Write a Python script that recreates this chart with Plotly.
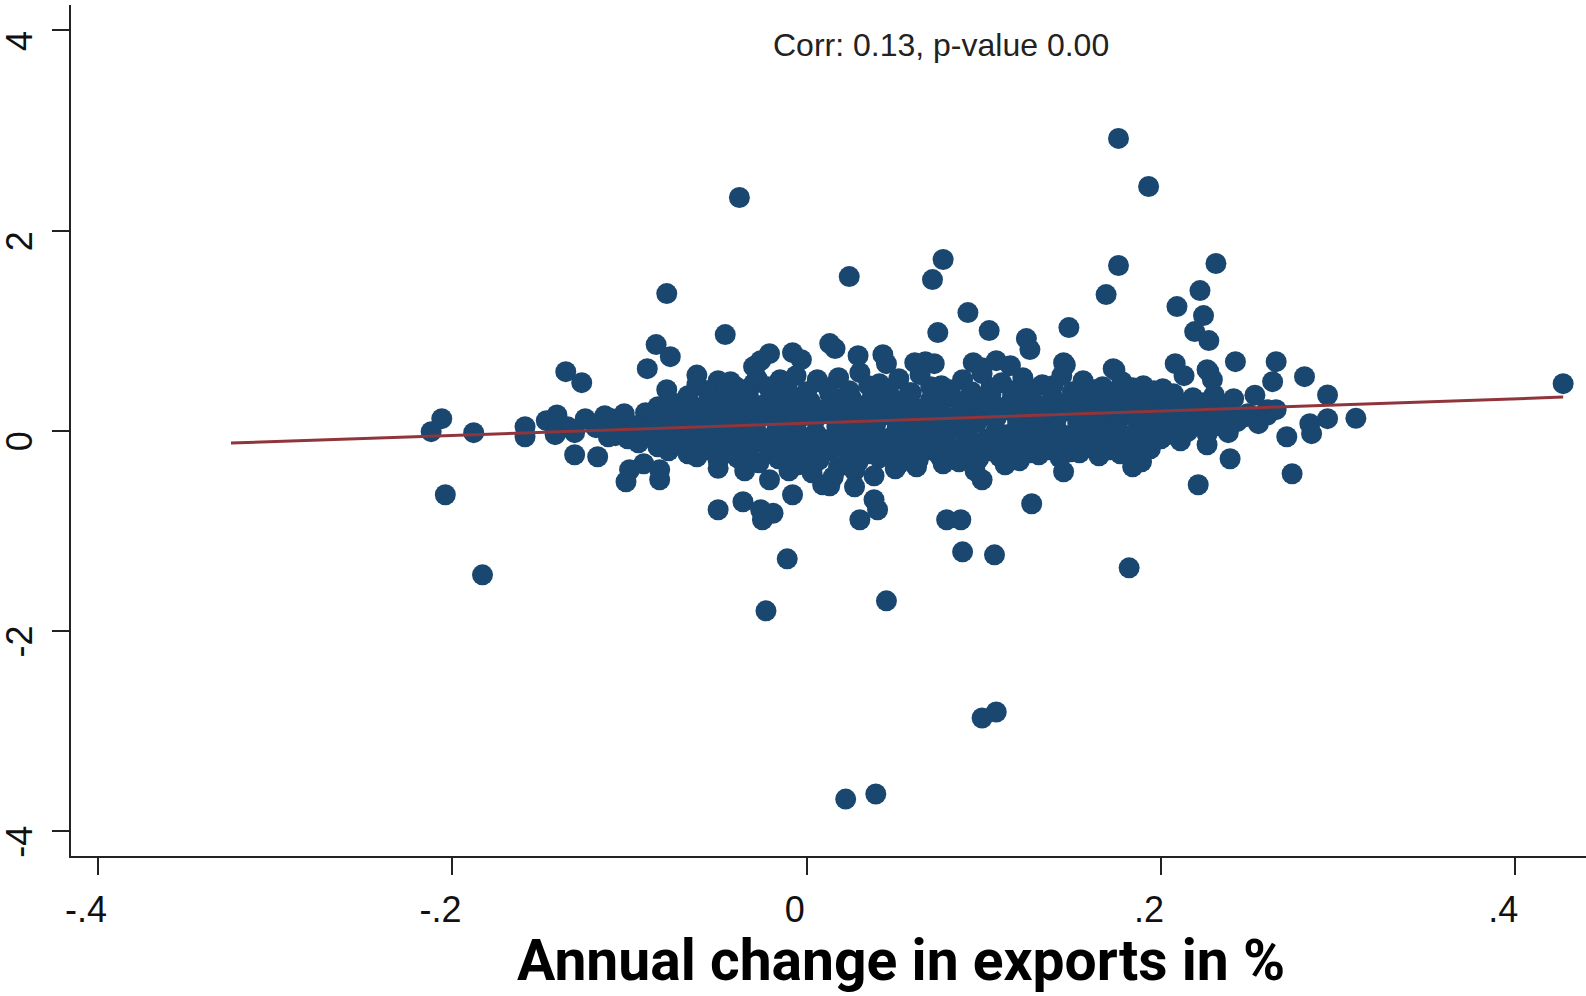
import numpy as np
import plotly.graph_objects as go

# ---- data: (annual change in exports, outcome) ----
upper_points = [
    (0.176, 2.92), (0.193, 2.44), (-0.038, 2.33), (0.077, 1.71), (0.024, 1.54),
    (0.071, 1.51), (0.176, 1.65), (0.231, 1.67), (0.169, 1.36), (0.222, 1.40),
    (0.209, 1.24), (0.224, 1.15), (0.219, 0.99), (-0.079, 1.37), (0.091, 1.18),
    (0.074, 0.98), (0.103, 1.00), (0.148, 1.03), (-0.046, 0.96), (0.124, 0.92),
    (0.126, 0.81), (0.227, 0.90), (-0.085, 0.86), (-0.077, 0.74), (-0.090, 0.62),
    (-0.136, 0.59), (-0.127, 0.48), (-0.062, 0.556), (-0.043, 0.49), (-0.079, 0.41),
    (-0.021, 0.77), (-0.008, 0.78), (-0.003, 0.71), (-0.029, 0.65), (-0.026, 0.70),
    (0.013, 0.87), (0.016, 0.82), (0.029, 0.75), (0.043, 0.76), (0.045, 0.67),
    (0.061, 0.68), (0.067, 0.69), (0.072, 0.67), (0.094, 0.68), (0.099, 0.63),
    (0.107, 0.70), (0.115, 0.65), (0.145, 0.68), (0.146, 0.656), (0.173, 0.62),
    (0.174, 0.606), (0.208, 0.67), (0.213, 0.55), (0.227, 0.59), (0.242, 0.69),
    (0.265, 0.69), (0.281, 0.54), (0.263, 0.49), (0.229, 0.51), (0.226, 0.61),
    (-0.015, 0.51), (0.006, 0.51), (-0.030, 0.64), (-0.030, 0.47),
]

core_top = [
    (-0.062, 0.46), (-0.050, 0.50), (-0.040, 0.44), (-0.028, 0.52), (-0.016, 0.47),
    (-0.006, 0.55), (0.006, 0.49), (0.018, 0.53), (0.030, 0.58), (0.041, 0.47),
    (0.052, 0.52), (0.064, 0.56), (0.076, 0.45), (0.088, 0.51), (0.099, 0.57),
    (0.110, 0.48), (0.122, 0.53), (0.133, 0.46), (0.144, 0.55), (0.156, 0.50),
    (0.167, 0.44), (0.178, 0.49), (0.190, 0.45), (0.201, 0.42),
    (-0.056, 0.40), (-0.045, 0.42), (-0.034, 0.38), (-0.022, 0.44), (-0.011, 0.41),
    (0.000, 0.39), (0.012, 0.43), (0.024, 0.40), (0.035, 0.45), (0.046, 0.42),
    (0.058, 0.38), (0.070, 0.44), (0.081, 0.41), (0.093, 0.39), (0.104, 0.43),
    (0.116, 0.40), (0.127, 0.42), (0.139, 0.45), (0.150, 0.39), (0.162, 0.41),
    (0.173, 0.38), (0.184, 0.43), (0.196, 0.40), (0.207, 0.37),
    (-0.078, 0.30), (-0.067, 0.35), (-0.055, 0.32), (-0.044, 0.28), (-0.033, 0.36),
    (-0.021, 0.31), (-0.010, 0.34), (0.002, 0.29), (0.013, 0.37), (0.025, 0.33),
    (0.036, 0.30), (0.047, 0.35), (0.059, 0.38), (0.070, 0.31), (0.082, 0.34),
    (0.093, 0.29), (0.104, 0.36), (0.116, 0.32), (0.127, 0.38), (0.139, 0.33),
    (0.150, 0.30), (0.161, 0.35), (0.173, 0.31), (0.184, 0.37), (0.196, 0.34),
    (0.207, 0.30), (0.218, 0.33), (0.230, 0.36),
    (-0.084, 0.24), (-0.073, 0.27), (-0.061, 0.23), (-0.050, 0.26), (-0.038, 0.22),
    (-0.027, 0.25), (-0.016, 0.28), (-0.004, 0.24), (0.007, 0.21), (0.019, 0.26),
    (0.030, 0.23), (0.042, 0.27), (0.053, 0.25), (0.065, 0.22), (0.076, 0.28),
    (0.087, 0.24), (0.099, 0.26), (0.110, 0.23), (0.122, 0.27), (0.133, 0.25),
    (0.144, 0.22), (0.156, 0.26), (0.167, 0.28), (0.179, 0.24), (0.190, 0.27),
    (0.202, 0.25), (0.213, 0.23), (0.224, 0.28), (0.236, 0.26),
]

core_middle = [
    (-0.125, 0.12), (-0.114, 0.15), (-0.103, 0.10), (-0.091, 0.18), (-0.080, 0.14),
    (-0.069, 0.20), (-0.057, 0.16), (-0.046, 0.13), (-0.035, 0.19), (-0.023, 0.17),
    (-0.012, 0.21), (-0.001, 0.15), (0.011, 0.18), (0.022, 0.14), (0.033, 0.20),
    (0.045, 0.16), (0.056, 0.22), (0.067, 0.17), (0.079, 0.13), (0.090, 0.19),
    (0.101, 0.15), (0.113, 0.21), (0.124, 0.18), (0.135, 0.14), (0.147, 0.20),
    (0.158, 0.17), (0.169, 0.23), (0.181, 0.16), (0.192, 0.19), (0.203, 0.22),
    (0.215, 0.18), (0.226, 0.24), (0.237, 0.20), (0.249, 0.17), (0.260, 0.21),
    (-0.119, 0.07), (-0.108, 0.09), (-0.097, 0.05), (-0.086, 0.10), (-0.074, 0.08),
    (-0.063, 0.06), (-0.051, 0.11), (-0.040, 0.09), (-0.029, 0.07), (-0.017, 0.10),
    (-0.006, 0.08), (0.005, 0.12), (0.017, 0.09), (0.028, 0.07), (0.039, 0.11),
    (0.051, 0.10), (0.062, 0.08), (0.073, 0.12), (0.085, 0.09), (0.096, 0.11),
    (0.107, 0.13), (0.119, 0.10), (0.130, 0.08), (0.141, 0.12), (0.153, 0.11),
    (0.164, 0.09), (0.175, 0.13), (0.187, 0.12), (0.198, 0.10), (0.209, 0.14),
    (0.221, 0.11), (0.232, 0.13), (0.243, 0.12),
    (-0.131, -0.02), (-0.119, 0.03), (-0.108, -0.05), (-0.097, 0.01), (-0.085, 0.04),
    (-0.074, -0.03), (-0.063, 0.02), (-0.051, 0.05), (-0.040, -0.01), (-0.029, 0.03),
    (-0.017, 0.00), (-0.006, 0.06), (0.005, -0.02), (0.017, 0.04), (0.028, 0.01),
    (0.039, 0.07), (0.051, 0.02), (0.062, -0.01), (0.073, 0.05), (0.085, 0.03),
    (0.096, 0.08), (0.107, 0.00), (0.119, 0.04), (0.130, 0.06), (0.141, 0.02),
    (0.153, 0.07), (0.164, 0.03), (0.175, 0.05), (0.187, 0.09), (0.198, 0.04),
    (0.209, 0.06), (0.221, 0.08), (0.232, 0.05), (0.243, 0.09), (0.255, 0.07),
]

core_bottom = [
    (-0.112, -0.06), (-0.101, -0.08), (-0.090, -0.05), (-0.079, -0.07), (-0.068, -0.09),
    (-0.057, -0.04), (-0.045, -0.07), (-0.034, -0.06), (-0.023, -0.08), (-0.011, -0.05),
    (0.000, -0.07), (0.011, -0.09), (0.023, -0.06), (0.034, -0.04), (0.045, -0.08),
    (0.056, -0.05), (0.068, -0.07), (0.079, -0.03), (0.090, -0.06), (0.102, -0.08),
    (0.113, -0.04), (0.124, -0.06), (0.136, -0.03), (0.147, -0.05), (0.158, -0.07),
    (0.170, -0.02), (0.181, -0.05), (0.192, -0.03), (0.204, -0.04), (0.215, -0.01),
    (0.226, -0.03), (0.238, -0.02),
    (-0.095, -0.12), (-0.084, -0.16), (-0.072, -0.10), (-0.061, -0.15), (-0.050, -0.13),
    (-0.038, -0.18), (-0.027, -0.11), (-0.016, -0.14), (-0.004, -0.17), (0.007, -0.12),
    (0.018, -0.15), (0.030, -0.19), (0.041, -0.13), (0.052, -0.16), (0.064, -0.11),
    (0.075, -0.14), (0.086, -0.18), (0.098, -0.12), (0.109, -0.15), (0.120, -0.10),
    (0.132, -0.13), (0.143, -0.16), (0.154, -0.11), (0.166, -0.09), (0.177, -0.14),
    (0.188, -0.12), (0.200, -0.08), (0.211, -0.10),
    (-0.078, -0.20), (-0.067, -0.23), (-0.055, -0.19), (-0.044, -0.22), (-0.033, -0.24),
    (-0.021, -0.21), (-0.010, -0.25), (0.001, -0.22), (0.013, -0.20), (0.024, -0.26),
    (0.035, -0.23), (0.047, -0.21), (0.058, -0.24), (0.069, -0.19), (0.081, -0.22),
    (0.092, -0.25), (0.103, -0.20), (0.115, -0.18), (0.126, -0.22), (0.137, -0.19),
    (0.149, -0.21), (0.160, -0.17), (0.171, -0.19), (0.183, -0.16), (0.194, -0.18),
    (-0.062, -0.26), (-0.050, -0.30), (-0.039, -0.27), (-0.027, -0.32), (-0.016, -0.28),
    (-0.005, -0.34), (0.007, -0.29), (0.018, -0.36), (0.029, -0.31), (0.041, -0.27),
    (0.052, -0.33), (0.063, -0.29), (0.075, -0.25), (0.086, -0.31), (0.097, -0.28),
    (0.109, -0.26), (0.120, -0.30), (0.131, -0.24), (0.143, -0.27), (0.154, -0.22),
    (0.165, -0.25), (0.177, -0.23), (0.188, -0.20),
    (0.003, -0.42), (0.015, -0.46), (0.027, -0.40), (0.038, -0.45), (0.050, -0.38),
    (-0.010, -0.40), (0.062, -0.36), (0.095, -0.40), (0.112, -0.34), (-0.035, -0.40),
    (0.013, -0.55), (0.027, -0.56),
]

edge_points = [
    (-0.206, 0.12), (-0.212, -0.01), (-0.188, -0.02), (-0.159, 0.04), (-0.159, -0.06),
    (-0.141, 0.157), (-0.147, 0.10), (-0.135, 0.04), (-0.142, -0.04), (-0.131, -0.24),
    (-0.118, -0.26), (-0.110, 0.12), (-0.103, 0.17),
    (0.294, 0.357), (0.310, 0.124), (0.294, 0.12), (0.284, 0.07), (0.285, -0.03),
    (0.271, -0.06), (0.274, -0.43), (0.248, 0.14), (0.260, 0.157), (0.265, 0.21),
    (0.253, 0.355), (0.241, 0.32), (0.239, -0.28), (0.226, -0.14), (0.221, -0.54),
    (0.189, -0.31), (0.184, -0.36), (0.145, -0.41), (0.427, 0.47),
]

lower_points = [
    (-0.100, -0.39), (-0.092, -0.33), (-0.102, -0.51), (-0.083, -0.49), (-0.083, -0.39),
    (-0.050, -0.376), (-0.050, -0.79), (-0.036, -0.71), (-0.026, -0.79), (-0.019, -0.825),
    (-0.025, -0.89), (-0.008, -0.64), (-0.021, -0.49), (0.009, -0.54), (0.030, -0.89),
    (0.038, -0.69), (0.040, -0.79), (0.077, -0.33), (0.062, -0.33), (0.099, -0.49),
    (0.079, -0.89), (0.087, -0.89), (0.127, -0.73), (0.088, -1.21), (0.106, -1.24),
    (0.099, -2.87), (0.107, -2.81), (0.045, -1.70), (0.022, -3.68), (0.039, -3.63),
    (-0.011, -1.28), (-0.023, -1.80), (-0.183, -1.44), (-0.204, -0.64), (0.182, -1.37),
]

# linear fit shown over the plotted span
fit_intercept = 0.075
fit_slope = 0.61
fit_span = [-0.325, 0.427]

x_ticks = [-0.4, -0.2, 0, 0.2, 0.4]
x_tick_text = ["-.4", "-.2", "0", ".2", ".4"]
y_ticks = [-4, -2, 0, 2, 4]
y_tick_text = ["-4", "-2", "0", "2", "4"]

corr_text = "Corr: 0.13, p-value 0.00"
x_title = "Annual change in exports in %"

# ---- figure ----
all_points = upper_points + core_top + core_middle + core_bottom + edge_points + lower_points
xs = [p[0] for p in all_points]
ys = [p[1] for p in all_points]

fit_x = np.array(fit_span)
fit_y = fit_intercept + fit_slope * fit_x

NAVY = "#1a476f"
MAROON = "#90353b"

fig = go.Figure()
fig.add_trace(go.Scatter(
    x=xs, y=ys, mode="markers",
    marker=dict(color=NAVY, size=21, line=dict(width=0)),
    showlegend=False, hoverinfo="skip",
))
fig.add_trace(go.Scatter(
    x=fit_x, y=fit_y, mode="lines",
    line=dict(color=MAROON, width=3),
    showlegend=False, hoverinfo="skip",
))

tick_font = dict(family="Liberation Sans, Arial, sans-serif", size=36, color="#111111")

fig.update_layout(
    width=1586, height=996,
    margin=dict(l=71, r=0, t=5, b=140),
    paper_bgcolor="white", plot_bgcolor="white",
    xaxis=dict(
        range=[-0.4153, 0.4399],
        tickmode="array", tickvals=x_ticks, ticktext=x_tick_text,
        ticks="outside", ticklen=17, tickwidth=2, tickcolor="#222222",
        showline=True, linecolor="#222222", linewidth=2,
        showgrid=False, zeroline=False,
        tickfont=tick_font, ticklabelshift=-12, ticklabelstandoff=4,
    ),
    yaxis=dict(
        range=[-4.249, 4.253],
        tickmode="array", tickvals=y_ticks, ticktext=y_tick_text,
        ticks="outside", ticklen=17, tickwidth=2, tickcolor="#222222",
        showline=True, linecolor="#222222", linewidth=2,
        showgrid=False, zeroline=False,
        tickangle=-90, tickfont=tick_font, ticklabelshift=16, ticklabelstandoff=6,
    ),
    annotations=[
        dict(
            text=corr_text, xref="paper", yref="paper",
            x=0.574, y=0.953, xanchor="center", yanchor="middle",
            showarrow=False,
            font=dict(family="Liberation Sans, Arial, sans-serif", size=32, color="#222222"),
        ),
        dict(
            text=x_title, xref="paper", yref="paper",
            x=0.548, y=-0.123, xanchor="center", yanchor="middle",
            showarrow=False,
            font=dict(family="Roboto, sans-serif", size=57, color="#000000", weight="bold"),
        ),
    ],
)

fig.write_html("out.html")
